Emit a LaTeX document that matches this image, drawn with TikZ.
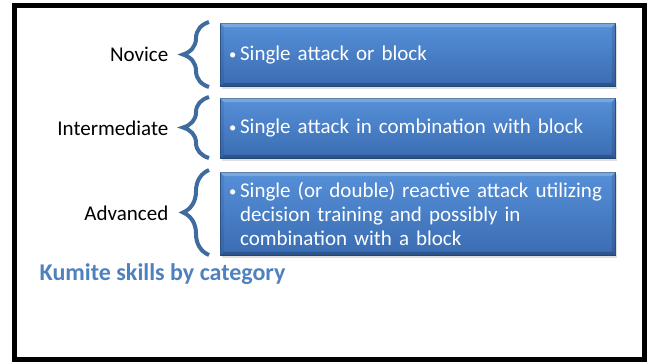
\documentclass[tikz,border=0pt]{standalone}
\usepackage{fontspec}
\setmainfont{Carlito}
\usetikzlibrary{decorations.pathreplacing, shadows}

\definecolor{boxtop}{HTML}{5690D8}
\definecolor{boxbot}{HTML}{3A6CB2}
\definecolor{boxline}{HTML}{2E5B96}
\definecolor{bracecol}{HTML}{3F6C9E}
\definecolor{titlecol}{HTML}{4F81BD}

\newcommand{\skbullet}{\makebox[8.25pt][l]{\raisebox{1pt}{\fontsize{11}{11}\selectfont•}}}
% bevelled edges of a box
\newcommand{\boxbevel}[1]{%
  \fill[white, opacity=0.22] (#1.north west) -- (#1.north east)
    -- ([xshift=-3pt,yshift=-3pt]#1.north east) -- ([xshift=3pt,yshift=-3pt]#1.north west) -- cycle;
  \fill[black, opacity=0.22] (#1.south west) -- (#1.south east)
    -- ([xshift=-3pt,yshift=3pt]#1.south east) -- ([xshift=3pt,yshift=3pt]#1.south west) -- cycle;
  \fill[black, opacity=0.12] (#1.north east) -- (#1.south east)
    -- ([xshift=-3pt,yshift=3pt]#1.south east) -- ([xshift=-3pt,yshift=-3pt]#1.north east) -- cycle;
  \fill[black, opacity=0.08] (#1.north west) -- (#1.south west)
    -- ([xshift=3pt,yshift=3pt]#1.south west) -- ([xshift=3pt,yshift=-3pt]#1.north west) -- cycle;}

\begin{document}
\begin{tikzpicture}[x=0.75pt, y=-0.75pt,
  skillbox/.style={rectangle, draw=boxline, line width=0.6pt,
    top color=boxtop, bottom color=boxbot, anchor=north west,
    text=white, align=left, inner xsep=6.5pt, inner ysep=0pt,
    text width=283.25pt, minimum width=296.25pt,
    font=\fontsize{15.75}{18}\selectfont,
    drop shadow={opacity=0.25, shadow xshift=1.5pt, shadow yshift=-2pt}},
  level/.style={anchor=east, font=\fontsize{15.75}{18}\selectfont},
  skillbrace/.style={draw=bracecol, line width=3pt,
    decorate, decoration={brace, amplitude=19.5pt}}]
\useasboundingbox (0,0) rectangle (649,362);
\draw[line width=3.4pt] (14.5,5.5) rectangle (644.5,359.5);

% boxes
\node[skillbox, minimum height=47.25pt] (novbox) at (220,23)
  {\skbullet Single attack or block};
\node[skillbox, minimum height=45pt] (intbox) at (220,98)
  {\skbullet Single attack in combination with block};
\node[skillbox, minimum height=62.25pt] (advbox) at (220,172)
  {\skbullet Single (or double) reactive attack utilizing\\
   \hspace*{8.25pt}decision training and possibly in\\
   \hspace*{8.25pt}combination with a block};
\boxbevel{novbox}
\boxbevel{intbox}
\boxbevel{advbox}

% levels
\node[level] (novice) at (173,54) {Novice};
\node[level] (inter) at (173,128) {Intermediate};
\node[level] (adv) at (173,213) {Advanced};

% braces
\coordinate (novlo) at (209,87);
\coordinate (novhi) at (209,22);
\coordinate (intlo) at (209,158);
\coordinate (inthi) at (209,97);
\coordinate (advlo) at (209,255);
\coordinate (advhi) at (209,170);
\draw[skillbrace] (novlo) -- (novhi);
\draw[skillbrace] (intlo) -- (inthi);
\draw[skillbrace] (advlo) -- (advhi);

\node[anchor=west, text=titlecol, font=\fontsize{18}{20}\selectfont\bfseries]
  (title) at (35,274) {Kumite skills by category};
\end{tikzpicture}
\end{document}
